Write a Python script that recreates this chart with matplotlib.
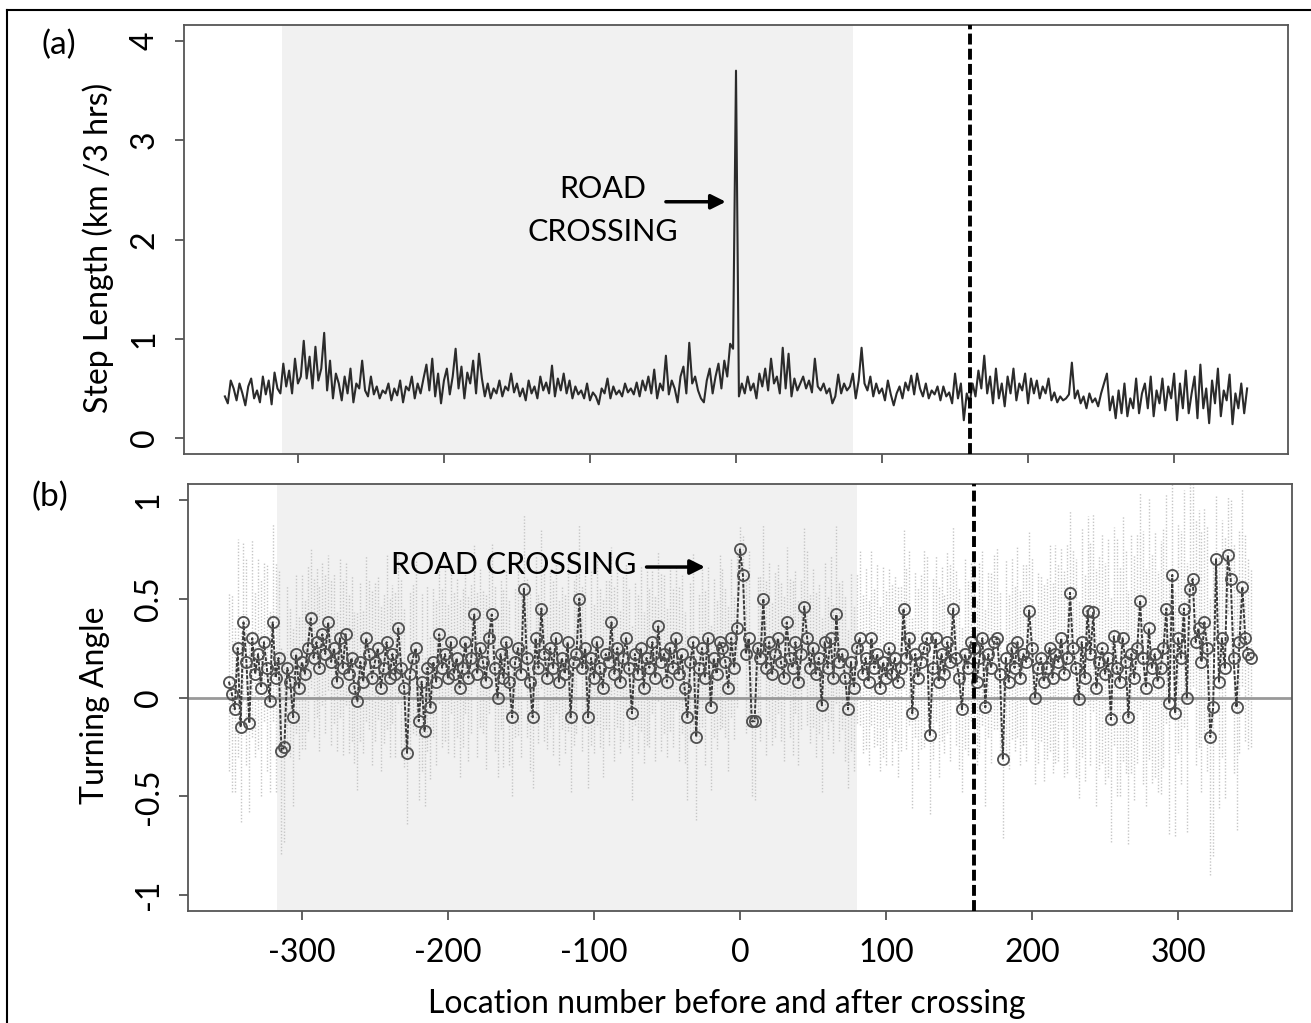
import numpy as np
import matplotlib
matplotlib.use("Agg")
import matplotlib.pyplot as plt
from matplotlib.lines import Line2D

plt.rcParams['font.family'] = ['Lato', 'DejaVu Sans']
plt.rcParams['axes.unicode_minus'] = False

# location number before/after crossing (every 2nd location)
loc = np.arange(-350, 351, 2)

# (a) step length, km / 3 hrs
step_len = [
    0.42, 0.35, 0.58, 0.50, 0.38, 0.55, 0.45, 0.33, 0.52, 0.60,
    0.40, 0.48, 0.36, 0.62, 0.44, 0.58, 0.34, 0.66, 0.50, 0.45,
    0.75, 0.52, 0.68, 0.45, 0.80, 0.55, 0.62, 0.98, 0.60, 0.82,
    0.50, 0.92, 0.58, 0.70, 1.06, 0.48, 0.78, 0.40, 0.65, 0.55,
    0.38, 0.62, 0.45, 0.70, 0.36, 0.55, 0.50, 0.78, 0.48, 0.42,
    0.62, 0.44, 0.52, 0.40, 0.48, 0.45, 0.55, 0.38, 0.50, 0.43,
    0.58, 0.36, 0.52, 0.48, 0.62, 0.40, 0.55, 0.45, 0.60, 0.74,
    0.48, 0.80, 0.42, 0.65, 0.35, 0.58, 0.70, 0.44, 0.62, 0.90,
    0.50, 0.72, 0.40, 0.66, 0.55, 0.78, 0.45, 0.85, 0.60, 0.42,
    0.55, 0.40, 0.50, 0.45, 0.58, 0.42, 0.52, 0.48, 0.65, 0.46,
    0.55, 0.42, 0.50, 0.38, 0.58, 0.45, 0.52, 0.40, 0.62, 0.48,
    0.56, 0.45, 0.73, 0.42, 0.60, 0.48, 0.65, 0.45, 0.58, 0.40,
    0.52, 0.44, 0.48, 0.40, 0.55, 0.38, 0.46, 0.42, 0.34, 0.50,
    0.45, 0.60, 0.40, 0.52, 0.44, 0.48, 0.42, 0.55, 0.46, 0.50,
    0.44, 0.56, 0.42, 0.58, 0.48, 0.62, 0.45, 0.69, 0.40, 0.55,
    0.48, 0.83, 0.44, 0.58, 0.50, 0.36, 0.62, 0.72, 0.45, 0.96,
    0.55, 0.62, 0.48, 0.40, 0.36, 0.58, 0.70, 0.45, 0.62, 0.75,
    0.50, 0.78, 0.62, 0.95, 0.90, 3.70, 0.42, 0.55, 0.45, 0.62,
    0.48, 0.55, 0.40, 0.65, 0.52, 0.70, 0.48, 0.80, 0.55, 0.62,
    0.45, 0.91, 0.50, 0.85, 0.42, 0.60, 0.48, 0.55, 0.62, 0.50,
    0.58, 0.46, 0.80, 0.52, 0.48, 0.55, 0.45, 0.50, 0.35, 0.42,
    0.64, 0.45, 0.55, 0.48, 0.52, 0.65, 0.40, 0.58, 0.91, 0.55,
    0.48, 0.62, 0.42, 0.55, 0.45, 0.50, 0.38, 0.58, 0.44, 0.33,
    0.45, 0.52, 0.40, 0.56, 0.48, 0.63, 0.44, 0.65, 0.50, 0.42,
    0.55, 0.40, 0.48, 0.44, 0.52, 0.38, 0.52, 0.42, 0.46, 0.35,
    0.65, 0.40, 0.55, 0.18, 0.45, 0.35, 0.55, 0.42, 0.68, 0.50,
    0.83, 0.45, 0.62, 0.35, 0.70, 0.40, 0.55, 0.32, 0.62, 0.45,
    0.70, 0.38, 0.55, 0.48, 0.65, 0.35, 0.60, 0.45, 0.58, 0.40,
    0.52, 0.45, 0.60, 0.38, 0.46, 0.36, 0.42, 0.38, 0.40, 0.44,
    0.76, 0.40, 0.48, 0.35, 0.42, 0.30, 0.45, 0.36, 0.40, 0.32,
    0.45, 0.55, 0.65, 0.28, 0.42, 0.20, 0.48, 0.25, 0.55, 0.22,
    0.40, 0.30, 0.60, 0.25, 0.45, 0.55, 0.30, 0.62, 0.22, 0.48,
    0.35, 0.60, 0.28, 0.52, 0.40, 0.65, 0.18, 0.55, 0.30, 0.68,
    0.25, 0.45, 0.62, 0.20, 0.74, 0.30, 0.50, 0.15, 0.58, 0.35,
    0.70, 0.22, 0.48, 0.38, 0.64, 0.14, 0.45, 0.30, 0.55, 0.25,
    0.50,
]

# (b) turning angle
turn = [
    0.08, 0.02, -0.06, 0.25, -0.15, 0.38, 0.18, -0.13, 0.30, 0.12,
    0.22, 0.05, 0.28, 0.15, -0.02, 0.38, 0.10, 0.20, -0.27, -0.25,
    0.15, 0.08, -0.10, 0.22, 0.05, 0.18, 0.12, 0.25, 0.40, 0.20,
    0.28, 0.15, 0.32, 0.22, 0.38, 0.18, 0.25, 0.08, 0.30, 0.15,
    0.32, 0.12, 0.20, 0.05, -0.02, 0.18, 0.08, 0.30, 0.22, 0.10,
    0.18, 0.25, 0.05, 0.15, 0.28, 0.10, 0.22, 0.12, 0.35, 0.15,
    0.05, -0.28, 0.12, 0.20, 0.25, -0.12, 0.08, -0.17, 0.15, -0.05,
    0.18, 0.08, 0.32, 0.15, 0.22, 0.10, 0.28, 0.12, 0.20, 0.05,
    0.15, 0.28, 0.10, 0.20, 0.42, 0.12, 0.25, 0.18, 0.08, 0.30,
    0.42, 0.15, 0.00, 0.22, 0.10, 0.28, 0.08, -0.10, 0.18, 0.25,
    0.12, 0.55, 0.20, 0.08, -0.10, 0.30, 0.15, 0.45, 0.22, 0.10,
    0.25, 0.15, 0.30, 0.08, 0.20, 0.12, 0.28, -0.10, 0.18, 0.22,
    0.50, 0.15, 0.25, -0.10, 0.20, 0.10, 0.28, 0.15, 0.05, 0.22,
    0.18, 0.38, 0.12, 0.25, 0.08, 0.20, 0.30, 0.15, -0.08, 0.22,
    0.12, 0.25, 0.05, 0.20, 0.15, 0.28, 0.10, 0.36, 0.18, 0.22,
    0.08, 0.25, 0.15, 0.30, 0.12, 0.22, 0.05, -0.10, 0.18, 0.28,
    -0.20, 0.15, 0.25, 0.10, 0.30, -0.05, 0.20, 0.12, 0.28, 0.25,
    0.18, 0.05, 0.30, 0.15, 0.35, 0.75, 0.62, 0.22, 0.30, -0.12,
    -0.12, 0.25, 0.20, 0.50, 0.15, 0.28, 0.12, 0.22, 0.30, 0.18,
    0.10, 0.38, 0.20, 0.15, 0.28, 0.08, 0.22, 0.46, 0.30, 0.15,
    0.25, 0.12, 0.20, -0.04, 0.28, 0.15, 0.30, 0.10, 0.42, 0.18,
    0.22, 0.10, -0.06, 0.18, 0.05, 0.25, 0.30, 0.12, 0.20, 0.08,
    0.30, 0.15, 0.22, 0.05, 0.18, 0.10, 0.25, 0.12, 0.20, 0.08,
    0.15, 0.45, 0.20, 0.30, -0.08, 0.22, 0.10, 0.18, 0.25, 0.30,
    -0.19, 0.15, 0.30, 0.08, 0.22, 0.12, 0.28, 0.18, 0.45, 0.20,
    0.10, -0.06, 0.22, 0.15, 0.28, 0.25, 0.08, 0.20, 0.30, -0.05,
    0.22, 0.15, 0.28, 0.30, 0.12, -0.31, 0.20, 0.08, 0.25, 0.15,
    0.28, 0.10, 0.22, 0.18, 0.44, 0.25, 0.00, 0.15, 0.20, 0.08,
    0.15, 0.25, 0.10, 0.22, 0.18, 0.30, 0.12, 0.20, 0.53, 0.25,
    0.15, -0.01, 0.28, 0.10, 0.44, 0.22, 0.43, 0.05, 0.18, 0.25,
    0.12, 0.20, -0.11, 0.31, 0.15, 0.08, 0.30, 0.18, -0.10, 0.22,
    0.10, 0.25, 0.49, 0.20, 0.05, 0.35, 0.15, 0.22, 0.08, 0.15,
    0.25, 0.45, -0.03, 0.62, -0.08, 0.30, 0.20, 0.45, 0.00, 0.55,
    0.60, 0.28, 0.35, 0.18, 0.38, 0.25, -0.20, -0.05, 0.70, 0.08,
    0.30, 0.15, 0.72, 0.60, 0.20, -0.05, 0.28, 0.56, 0.30, 0.22,
    0.20,
]

# half width of the interval drawn around each turning angle
turn_ci = [
    0.45, 0.50, 0.42, 0.55, 0.48, 0.40, 0.52, 0.45, 0.50, 0.42,
    0.48, 0.55, 0.40, 0.52, 0.46, 0.50, 0.58, 0.44, 0.52, 0.48,
    0.42, 0.38, 0.45, 0.40, 0.36, 0.44, 0.38, 0.42, 0.35, 0.40,
    0.38, 0.42, 0.36, 0.40, 0.34, 0.42, 0.38, 0.35, 0.40, 0.44,
    0.36, 0.40, 0.42, 0.38, 0.45, 0.40, 0.36, 0.42, 0.38, 0.44,
    0.40, 0.36, 0.42, 0.38, 0.44, 0.40, 0.35, 0.42, 0.38, 0.45,
    0.40, 0.36, 0.42, 0.38, 0.44, 0.40, 0.45, 0.38, 0.42, 0.36,
    0.38, 0.42, 0.35, 0.40, 0.44, 0.38, 0.36, 0.42, 0.40, 0.45,
    0.40, 0.36, 0.42, 0.38, 0.35, 0.42, 0.40, 0.36, 0.44, 0.38,
    0.36, 0.42, 0.40, 0.38, 0.45, 0.36, 0.42, 0.40, 0.38, 0.44,
    0.42, 0.38, 0.40, 0.45, 0.36, 0.42, 0.38, 0.40, 0.44, 0.36,
    0.40, 0.44, 0.38, 0.42, 0.36, 0.40, 0.45, 0.38, 0.42, 0.40,
    0.38, 0.42, 0.40, 0.36, 0.44, 0.38, 0.42, 0.40, 0.45, 0.38,
    0.42, 0.38, 0.44, 0.40, 0.36, 0.42, 0.38, 0.40, 0.44, 0.36,
    0.40, 0.42, 0.38, 0.44, 0.40, 0.36, 0.42, 0.38, 0.45, 0.40,
    0.38, 0.42, 0.40, 0.36, 0.44, 0.40, 0.38, 0.42, 0.40, 0.45,
    0.42, 0.38, 0.40, 0.44, 0.36, 0.42, 0.40, 0.38, 0.44, 0.40,
    0.38, 0.42, 0.40, 0.36, 0.40, 0.12, 0.20, 0.40, 0.44, 0.38,
    0.40, 0.36, 0.42, 0.38, 0.44, 0.40, 0.36, 0.42, 0.38, 0.40,
    0.42, 0.38, 0.40, 0.44, 0.36, 0.42, 0.38, 0.40, 0.44, 0.38,
    0.40, 0.42, 0.38, 0.44, 0.40, 0.36, 0.42, 0.38, 0.45, 0.40,
    0.38, 0.42, 0.40, 0.45, 0.42, 0.38, 0.44, 0.40, 0.46, 0.42,
    0.44, 0.40, 0.46, 0.42, 0.48, 0.44, 0.40, 0.46, 0.42, 0.48,
    0.42, 0.40, 0.46, 0.44, 0.48, 0.42, 0.46, 0.44, 0.50, 0.42,
    0.40, 0.46, 0.42, 0.48, 0.44, 0.40, 0.46, 0.50, 0.42, 0.44,
    0.46, 0.42, 0.48, 0.44, 0.40, 0.46, 0.42, 0.48, 0.44, 0.50,
    0.42, 0.48, 0.44, 0.46, 0.42, 0.40, 0.50, 0.44, 0.46, 0.42,
    0.48, 0.44, 0.46, 0.50, 0.40, 0.46, 0.44, 0.48, 0.42, 0.50,
    0.46, 0.52, 0.48, 0.55, 0.50, 0.46, 0.52, 0.58, 0.42, 0.50,
    0.55, 0.50, 0.58, 0.52, 0.48, 0.56, 0.50, 0.60, 0.54, 0.58,
    0.56, 0.60, 0.62, 0.55, 0.65, 0.58, 0.62, 0.56, 0.64, 0.60,
    0.62, 0.58, 0.55, 0.64, 0.60, 0.66, 0.58, 0.62, 0.56, 0.64,
    0.60, 0.58, 0.66, 0.50, 0.62, 0.58, 0.64, 0.60, 0.68, 0.56,
    0.54, 0.62, 0.60, 0.66, 0.58, 0.62, 0.70, 0.75, 0.32, 0.64,
    0.60, 0.66, 0.30, 0.40, 0.58, 0.62, 0.56, 0.50, 0.52, 0.48,
    0.45,
]

x_ticks = [-300, -200, -100, 0, 100, 200, 300]
shade_a = (-311, 80)
shade_b = (-317, 80)
split_loc = 160

turn = np.array(turn)
turn_ci = np.array(turn_ci)

W, H = 1311, 1023
fig = plt.figure(figsize=(W / 100, H / 100), dpi=100)
ax1 = fig.add_axes([184 / W, 1 - 454 / H, 1104 / W, 429 / H])
ax2 = fig.add_axes([188 / W, 1 - 911 / H, 1104 / W, 427 / H])

fs = 23
fs_note = 22
edge = '#555555'
for ax in (ax1, ax2):
    ax.set_xlim(-378, 378)
    ax.set_xticks(x_ticks)
    for s in ax.spines.values():
        s.set_color(edge)
        s.set_linewidth(1.3)
    ax.tick_params(length=6.5, width=1.3, color=edge, labelsize=fs)
    ax.tick_params(axis='y', labelrotation=90, pad=11)
    ax.tick_params(axis='x', pad=13)

# (a) step length
ax1.axvspan(*shade_a, color='#f1f1f1', lw=0, zorder=0)
ax1.plot(loc, step_len, color='#2b2b2b', lw=1.5, zorder=2)
ax1.axvline(split_loc, color='black', lw=2.8, ls=(0, (2.8, 1.1)), zorder=3)
ax1.set_ylim(-0.16, 4.16)
ax1.set_yticks([0, 1, 2, 3, 4])
ax1.set_xticklabels([])
ax1.set_ylabel('Step Length (km /3 hrs)', fontsize=fs)
ax1.yaxis.set_label_coords(-0.078, 0.48)
ax1.yaxis.label.set_va('center')
ax1.text(-91, 2.51, 'ROAD', ha='center', va='center', fontsize=fs_note)
ax1.text(-91, 2.08, 'CROSSING', ha='center', va='center', fontsize=fs_note)
ax1.annotate('', xy=(-7, 2.38), xytext=(-48, 2.38),
             arrowprops=dict(arrowstyle='-|>', lw=2.5, color='black',
                             mutation_scale=22, shrinkA=0, shrinkB=0))

# (b) turning angle
ax2.axvspan(*shade_b, color='#f1f1f1', lw=0, zorder=0)
ax2.vlines(loc, turn - turn_ci, turn + turn_ci, colors='#c6c6c6',
           linestyles=(0, (1, 1.3)), lw=1.0, zorder=1)
ax2.axhline(0, color='#999999', lw=2, zorder=2)
ax2.plot(loc, turn, ls=(0, (2, 0.8)), color='#3a3a3a', lw=1.4,
         marker='o', ms=8, mfc='none', mec='#505050', mew=1.3, zorder=3)
ax2.axvline(split_loc, color='black', lw=2.8, ls=(0, (2.8, 1.1)), zorder=4)
ax2.set_ylim(-1.08, 1.08)
ax2.set_yticks([-1, -0.5, 0, 0.5, 1])
ax2.set_yticklabels(['-1', '-0.5', '0', '0.5', '1'])
ax2.set_ylabel('Turning Angle', fontsize=fs)
ax2.yaxis.set_label_coords(-0.084, 0.482)
ax2.yaxis.label.set_va('center')
ax2.set_xlabel('Location number before and after crossing', fontsize=fs)
ax2.xaxis.set_label_coords(0.488, -0.24)
ax2.xaxis.label.set_va('baseline')
ax2.text(-155, 0.67, 'ROAD CROSSING', ha='center', va='center', fontsize=fs_note)
ax2.annotate('', xy=(-24, 0.66), xytext=(-64, 0.66),
             arrowprops=dict(arrowstyle='-|>', lw=2.5, color='black',
                             mutation_scale=22, shrinkA=0, shrinkB=0))

for ax in (ax1, ax2):
    plt.setp(ax.get_yticklabels(), va='center')

fig.text(59 / W, 1 - 45 / H, '(a)', ha='center', va='center', fontsize=fs + 1)
fig.text(50 / W, 1 - 497 / H, '(b)', ha='center', va='center', fontsize=fs + 1)

# outer frame (left and top only, the rest is cropped)
fig.add_artist(Line2D([7 / W, 7 / W], [0, 1 - 10 / H], color='black', lw=1.5))
fig.add_artist(Line2D([7 / W, 1], [1 - 10 / H, 1 - 10 / H], color='black', lw=1.5))

fig.savefig('out.png', dpi=100)
